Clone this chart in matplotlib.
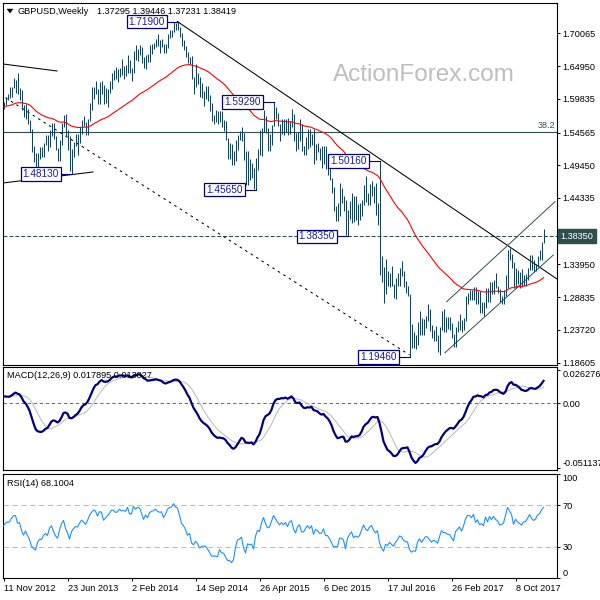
import numpy as np
import pandas as pd
import matplotlib
matplotlib.use("Agg")
import matplotlib.pyplot as plt
from matplotlib.patches import Polygon

plt.rcParams['font.family'] = ['Liberation Sans', 'DejaVu Sans']

# ---------------- data (weekly GBPUSD) ----------------
symbol = "GBPUSD,Weekly"
first_week = "2012-11-11"
last_open = 1.37295

highs = [
    1.5930, 1.6015, 1.6060, 1.6175, 1.6175, 1.6308, 1.6270, 1.6381,
    # 2013
    1.6145, 1.6125, 1.5890, 1.5900,
    1.5830, 1.5645, 1.5515, 1.5245,
    1.5130, 1.5135, 1.5230, 1.5225,
    1.5300, 1.5410, 1.5415, 1.5500, 1.5605,
    1.5605, 1.5405, 1.5220, 1.5340,
    1.5605, 1.5735, 1.5752, 1.5490, 1.5405,
    1.5200, 1.5310, 1.5440, 1.5435,
    1.5540, 1.5655, 1.5720, 1.5620,
    1.5665, 1.5910, 1.6160, 1.6170, 1.6260,
    1.6135, 1.6250, 1.6260, 1.6200,
    1.6155, 1.6135, 1.6260, 1.6385,
    1.6435, 1.6485, 1.6445, 1.6465, 1.6600,
    # 2014
    1.6490, 1.6515, 1.6665, 1.6595,
    1.6460, 1.6735, 1.6825, 1.6760,
    1.6820, 1.6790, 1.6640, 1.6670, 1.6680,
    1.6820, 1.6840, 1.6855, 1.6925,
    1.6995, 1.6905, 1.6925, 1.6845,
    1.6845, 1.6995, 1.7065, 1.7065, 1.7180,
    1.7165, 1.7190, 1.7100, 1.7015,
    1.6900, 1.6810, 1.6715, 1.6635, 1.6645,
    1.6330, 1.6525, 1.6380, 1.6320,
    1.6225, 1.6110, 1.6180, 1.6185,
    1.6045, 1.5925, 1.5735, 1.5810,
    1.5785, 1.5790, 1.5785, 1.5645, 1.5630,
    # 2015
    1.5370, 1.5285, 1.5270, 1.5175,
    1.5345, 1.5410, 1.5485, 1.5550,
    1.5445, 1.5170, 1.5165, 1.5050, 1.4980,
    1.4900, 1.5060, 1.5200, 1.5500,
    1.5525, 1.5815, 1.5710, 1.5525,
    1.5440, 1.5575, 1.5929, 1.5850, 1.5755,
    1.5590, 1.5675, 1.5675, 1.5675,
    1.5690, 1.5640, 1.5820, 1.5750, 1.5445,
    1.5460, 1.5660, 1.5595, 1.5245,
    1.5385, 1.5510, 1.5510, 1.5440,
    1.5510, 1.5275, 1.5300, 1.5220, 1.5240,
    1.5240, 1.5245, 1.4950, 1.4950,
    # 2016
    1.4745, 1.4600, 1.4305, 1.4355,
    1.4665, 1.4590, 1.4470, 1.4410,
    1.4250, 1.4380, 1.4515, 1.4460,
    1.4460, 1.4335, 1.4355, 1.4400,
    1.4640, 1.4770, 1.4510, 1.4660, 1.4700,
    1.4620, 1.4670, 1.4360, 1.5016,
    1.3535, 1.3350, 1.3480, 1.3290,
    1.3255, 1.3370, 1.3085, 1.3185,
    1.3255, 1.3340, 1.3445, 1.3290,
    1.3135, 1.3055, 1.2930,
    1.2460, 1.2335, 1.2290, 1.2490,
    1.2675, 1.2560, 1.2550, 1.2585,
    1.2775, 1.2705, 1.2445, 1.2365,
    # 2017
    1.2430, 1.2300, 1.2415, 1.2675,
    1.2705, 1.2570, 1.2580, 1.2570,
    1.2485, 1.2310, 1.2420, 1.2515,
    1.2615, 1.2535, 1.2565, 1.2905,
    1.2950, 1.2990, 1.2990, 1.3045,
    1.3045, 1.2975, 1.2980, 1.2815,
    1.2815, 1.3030, 1.3030, 1.3115,
    1.3125, 1.3160, 1.3265, 1.3055,
    1.3010, 1.2910, 1.3000, 1.3225,
    1.3620, 1.3658, 1.3560, 1.3430,
    1.3335, 1.3315, 1.3285, 1.3320,
    1.3225, 1.3240, 1.3345, 1.3550,
    1.3550, 1.3460, 1.3410, 1.3520,
    # 2018
    1.3615, 1.3745, 1.39446,
]

lows = [
    1.5827, 1.5880, 1.5965, 1.6000, 1.6010, 1.6150, 1.6080, 1.6055,
    # 2013
    1.5960, 1.5810, 1.5695, 1.5670,
    1.5590, 1.5460, 1.5150, 1.4990,
    1.4920, 1.4831, 1.5040, 1.5075,
    1.5070, 1.5255, 1.5165, 1.5225, 1.5395,
    1.5360, 1.5190, 1.5008, 1.5010,
    1.5260, 1.5545, 1.5390, 1.5185, 1.4855,
    1.4813, 1.5080, 1.5240, 1.5100,
    1.5285, 1.5430, 1.5565, 1.5425,
    1.5425, 1.5640, 1.5815, 1.5985, 1.6065,
    1.5895, 1.5895, 1.6060, 1.5895,
    1.5910, 1.5855, 1.6080, 1.6135,
    1.6270, 1.6290, 1.6250, 1.6320, 1.6360,
    # 2014
    1.6290, 1.6340, 1.6380, 1.6390,
    1.6255, 1.6380, 1.6585, 1.6580,
    1.6660, 1.6535, 1.6460, 1.6450, 1.6555,
    1.6555, 1.6690, 1.6755, 1.6790,
    1.6815, 1.6695, 1.6795, 1.6695,
    1.6695, 1.6780, 1.6935, 1.6950, 1.7020,
    1.7060, 1.7060, 1.6950, 1.6810,
    1.6740, 1.6640, 1.6535, 1.6525, 1.6300,
    1.6052, 1.6160, 1.6210, 1.6005,
    1.5990, 1.5875, 1.5980, 1.5945,
    1.5790, 1.5630, 1.5590, 1.5620,
    1.5585, 1.5620, 1.5535, 1.5485, 1.5340,
    # 2015
    1.5035, 1.5035, 1.4950, 1.4950,
    1.5005, 1.5180, 1.5340, 1.5330,
    1.5020, 1.4635, 1.4635, 1.4715, 1.4745,
    1.4575, 1.4565, 1.4875, 1.5100,
    1.5085, 1.5465, 1.5445, 1.5170,
    1.5170, 1.5255, 1.5560, 1.5660, 1.5565,
    1.5330, 1.5440, 1.5415, 1.5460,
    1.5415, 1.5435, 1.5540, 1.5330, 1.5165,
    1.5200, 1.5330, 1.5170, 1.5105,
    1.5110, 1.5200, 1.5235, 1.5265,
    1.4960, 1.5025, 1.5150, 1.5020, 1.4895,
    1.4970, 1.4880, 1.4800, 1.4715,
    # 2016
    1.4510, 1.4235, 1.4080, 1.4080,
    1.4155, 1.4355, 1.4235, 1.3860,
    1.3835, 1.4100, 1.4050, 1.4055,
    1.4090, 1.4005, 1.4090, 1.4150,
    1.4330, 1.4375, 1.4330, 1.4330, 1.4470,
    1.4350, 1.4170, 1.4010, 1.3230,
    1.3120, 1.2800, 1.2930, 1.3060,
    1.3050, 1.3060, 1.2865, 1.2855,
    1.3055, 1.3055, 1.3220, 1.3040,
    1.2945, 1.2910, 1.1946,
    1.2085, 1.2085, 1.2080, 1.2130,
    1.2300, 1.2300, 1.2300, 1.2400,
    1.2515, 1.2355, 1.2250, 1.2200,
    # 2017
    1.2200, 1.2035, 1.1987, 1.2370,
    1.2345, 1.2345, 1.2380, 1.2375,
    1.2245, 1.2110, 1.2110, 1.2335,
    1.2375, 1.2345, 1.2365, 1.2515,
    1.2770, 1.2840, 1.2845, 1.2845,
    1.2775, 1.2770, 1.2635, 1.2635,
    1.2590, 1.2715, 1.2810, 1.2810,
    1.2930, 1.2935, 1.3035, 1.2955,
    1.2805, 1.2775, 1.2775, 1.2905,
    1.3030, 1.3460, 1.3340, 1.3030,
    1.3030, 1.3085, 1.3030, 1.3040,
    1.3060, 1.3060, 1.3155, 1.3305,
    1.3305, 1.3280, 1.3300, 1.3360,
    # 2018
    1.3460, 1.3460, 1.37231,
]

closes = [
    1.5895, 1.5995, 1.6030, 1.6035, 1.6165, 1.6245, 1.6255, 1.6065,
    # 2013
    1.6080, 1.5860, 1.5700, 1.5810,
    1.5650, 1.5490, 1.5165, 1.5020,
    1.4920, 1.5115, 1.5200, 1.5195,
    1.5300, 1.5355, 1.5280, 1.5485, 1.5555,
    1.5370, 1.5205, 1.5100, 1.5330,
    1.5560, 1.5690, 1.5400, 1.5210, 1.4890,
    1.5170, 1.5290, 1.5375, 1.5355,
    1.5505, 1.5640, 1.5575, 1.5490,
    1.5650, 1.5870, 1.6025, 1.6150, 1.6120,
    1.5975, 1.6180, 1.6170, 1.5925,
    1.6025, 1.6115, 1.6230, 1.6375,
    1.6375, 1.6320, 1.6345, 1.6455, 1.6415,
    # 2014
    1.6440, 1.6420, 1.6575, 1.6440,
    1.6440, 1.6730, 1.6670, 1.6750,
    1.6735, 1.6635, 1.6500, 1.6640, 1.6580,
    1.6745, 1.6805, 1.6815, 1.6875,
    1.6835, 1.6820, 1.6830, 1.6735,
    1.6815, 1.6975, 1.7015, 1.7040, 1.7155,
    1.7105, 1.7090, 1.6980, 1.6835,
    1.6785, 1.6700, 1.6565, 1.6600, 1.6320,
    1.6245, 1.6310, 1.6230, 1.6050,
    1.6075, 1.6085, 1.6080, 1.5985,
    1.5850, 1.5645, 1.5650, 1.5630,
    1.5610, 1.5705, 1.5580, 1.5560, 1.5390,
    # 2015
    1.5160, 1.5160, 1.5000, 1.5040,
    1.5230, 1.5375, 1.5395, 1.5430,
    1.5030, 1.4720, 1.4935, 1.4880, 1.4900,
    1.4635, 1.4985, 1.5180, 1.5120,
    1.5460, 1.5710, 1.5480, 1.5285,
    1.5320, 1.5570, 1.5875, 1.5740, 1.5605,
    1.5500, 1.5600, 1.5510, 1.5610,
    1.5450, 1.5640, 1.5700, 1.5375, 1.5180,
    1.5430, 1.5520, 1.5195, 1.5185,
    1.5325, 1.5440, 1.5320, 1.5430,
    1.5040, 1.5225, 1.5185, 1.5045, 1.5060,
    1.5210, 1.4900, 1.4900, 1.4740,
    # 2016
    1.4535, 1.4250, 1.4260, 1.4245,
    1.4495, 1.4495, 1.4405, 1.3875,
    1.4225, 1.4365, 1.4475, 1.4150,
    1.4215, 1.4145, 1.4200, 1.4405,
    1.4615, 1.4440, 1.4365, 1.4500, 1.4565,
    1.4375, 1.4255, 1.4335, 1.3680,
    1.3275, 1.2950, 1.3215, 1.3115,
    1.3240, 1.3080, 1.2935, 1.3075,
    1.3165, 1.3315, 1.3265, 1.3075,
    1.2985, 1.2970, 1.2430,
    1.2190, 1.2230, 1.2195, 1.2485,
    1.2600, 1.2380, 1.2480, 1.2580,
    1.2560, 1.2420, 1.2280, 1.2340,
    # 2017
    1.2285, 1.2180, 1.2370, 1.2560,
    1.2480, 1.2480, 1.2415, 1.2410,
    1.2285, 1.2160, 1.2400, 1.2470,
    1.2545, 1.2405, 1.2560, 1.2810,
    1.2945, 1.2955, 1.2890, 1.3030,
    1.2795, 1.2895, 1.2745, 1.2780,
    1.2715, 1.3025, 1.2880, 1.3095,
    1.2995, 1.3135, 1.3040, 1.3010,
    1.2875, 1.2890, 1.2930, 1.3205,
    1.3590, 1.3495, 1.3395, 1.3065,
    1.3285, 1.3190, 1.3135, 1.3075,
    1.3195, 1.3205, 1.3325, 1.3480,
    1.3380, 1.3315, 1.3360, 1.3510,
    # 2018
    1.3565, 1.3725, 1.38419,
]

if not (len(highs) == len(lows) == len(closes)):
    raise SystemExit(f"length mismatch {len(highs)} {len(lows)} {len(closes)}")

ma_period = 55
ma_seed = 1.586
macd_fast, macd_slow, macd_signal = 12, 26, 9
macd_seed_fast, macd_seed_slow = 1.600, 1.593
macd_header = "MACD(12,26,9) 0.017895 0.013827"
rsi_period = 14
rsi_seed_gain, rsi_seed_loss = 0.0065, 0.0065
rsi_header = "RSI(14) 68.1004"
rsi_levels = [70, 30]

# swing labels (bar index, price)
swing_index = [34, 87, 126, 135, 172, 188, 203]
swing_price = [1.4813, 1.7190, 1.4565, 1.5929, 1.3835, 1.5016, 1.1946]

fib_level = 1.5462
fib_label = "38.2"
support_level = 1.3835

# drawn trend lines: (bar indices, prices)
trend_main = ([87, 276.75], [1.7190, 1.3168])
trend_dotted = ([1, 203], [1.6000, 1.1982])
trend_top_left = ([-0.25, 26.75], [1.6527, 1.6418])
trend_bottom_left = ([-0.25, 44.75], [1.4668, 1.4840])
channel_lower = ([220.75, 274.9], [1.2017, 1.3543])
channel_upper = ([221.6, 275.75], [1.2813, 1.4376])

price_ticks = [1.70065, 1.64950, 1.59835, 1.54565, 1.49450, 1.44335,
               1.33950, 1.28835, 1.23720, 1.18605]
macd_ticks = [0.026276, 0.0, -0.051137]
macd_tick_labels = ["0.026276", "0.00", "-0.051137"]
rsi_ticks = [100, 70, 30, 0]
date_tick_step = 32

# ---------------- indicators ----------------
c = np.array(closes)
n = len(c)

def ema(values, period, seed):
    a = 2.0 / (period + 1)
    out = np.empty(len(values))
    e = seed
    for k, v in enumerate(values):
        e = e + a * (v - e)
        out[k] = e
    return out

ma = ema(c, ma_period, ma_seed)
macd_main = ema(c, macd_fast, macd_seed_fast) - ema(c, macd_slow, macd_seed_slow)
macd_sig = pd.Series(macd_main).rolling(macd_signal, min_periods=1).mean().values

rsi = np.empty(n)
ag, al = rsi_seed_gain, rsi_seed_loss
rsi[0] = 100 - 100 / (1 + ag / al)
for k in range(1, n):
    ch = c[k] - c[k - 1]
    ag = (ag * (rsi_period - 1) + max(ch, 0)) / rsi_period
    al = (al * (rsi_period - 1) + max(-ch, 0)) / rsi_period
    rsi[k] = 100 - 100 / (1 + ag / al)

dates = pd.date_range(first_week, periods=n, freq="7D")

# ---------------- figure ----------------
W = H = 600
fig = plt.figure(figsize=(6, 6), dpi=100)
fig.patch.set_facecolor("white")

def px_axes(x0, y0, x1, y1):
    return fig.add_axes([x0 / W, 1 - y1 / H, (x1 - x0) / W, (y1 - y0) / H])

ax = px_axes(3, 3, 557, 365)
axm = px_axes(3, 367, 557, 470)
axr = px_axes(3, 474, 557, 578)

x = np.arange(n)
xlim = (-0.25, 276.75)
FS = 6.6
BAR = "#17425e"
SLATE = "#2F4F4F"
NAVY = "#000080"

for a in (ax, axm, axr):
    a.set_xlim(*xlim)
    a.set_facecolor("white")
    for s in a.spines.values():
        s.set_linewidth(0.8)
        s.set_color("black")
    a.yaxis.tick_right()
    a.tick_params(axis="y", direction="out", length=2.2, width=0.7,
                  labelsize=FS, pad=1.8, colors="black")
    a.tick_params(axis="x", bottom=False, labelbottom=False)

# ---- main panel ----
ax.set_ylim(1.18245, 1.74799)
ax.vlines(x, lows, highs, color=BAR, lw=0.75, zorder=3)
ax.plot(x, ma, color="#FF0000", lw=0.8, zorder=4)

ax.axhline(fib_level, color=SLATE, lw=0.8, zorder=2)
ax.axhline(support_level, color=SLATE, lw=0.75, dashes=(3.8, 1.9), zorder=2)

ax.plot(*trend_main, color="black", lw=0.75, zorder=2)
ax.plot(*trend_top_left, color="black", lw=0.75, zorder=2)
ax.plot(*trend_bottom_left, color="black", lw=0.75, zorder=2)
ax.plot(*trend_dotted, color="black", lw=0.75, dashes=(2.4, 3.8), zorder=2)
ax.plot(*channel_lower, color=SLATE, lw=0.7, zorder=2)
ax.plot(*channel_upper, color=SLATE, lw=0.7, zorder=2)

for si, sp in zip(swing_index, swing_price):
    ax.plot([si - 5, si], [sp, sp], color=NAVY, lw=0.8, zorder=5)
    ax.annotate(f"{sp:.5f}", xy=(si - 5, sp), xytext=(-2.0, 0),
                textcoords="offset points", ha="right", va="center",
                fontsize=7.2, color="#1c1ca0", zorder=6,
                bbox=dict(boxstyle="square,pad=0.18", fc="white",
                          ec=NAVY, lw=0.9))

ax.set_yticks(price_ticks)
ax.set_yticklabels([f"{t:.5f}" for t in price_ticks])

ax.annotate(fib_label, xy=(1, fib_level), xycoords=("axes fraction", "data"),
            xytext=(-1.5, 1.2), textcoords="offset points", ha="right",
            va="bottom", fontsize=FS, color=SLATE)

ax.annotate(f"{support_level:.5f}", xy=(1, support_level),
            xycoords=("axes fraction", "data"), xytext=(2.4, 0),
            textcoords="offset points", ha="left", va="center",
            fontsize=FS, color="white", zorder=10, annotation_clip=False,
            bbox=dict(boxstyle="square,pad=0.28", fc=SLATE, ec=SLATE))

# ---- MACD panel ----
axm.set_ylim(-0.05283, 0.02875)
axm.axhline(0, color="#6f6f6f", lw=0.75, dashes=(3.2, 2.6), zorder=1)
axm.plot(x, macd_sig, color="#C0C0C0", lw=0.8, zorder=2)
axm.plot(x, macd_main, color=NAVY, lw=1.6, zorder=3)
axm.set_yticks(macd_ticks)
axm.set_yticklabels(macd_tick_labels)
mlabs = axm.get_yticklabels()
mlabs[0].set_va("top")
mlabs[2].set_va("bottom")

# ---- RSI panel ----
axr.set_ylim(0, 100)
for lv in rsi_levels:
    axr.axhline(lv, color="#C0C0C0", lw=0.8, dashes=(4.8, 3.2), zorder=1)
axr.plot(x, rsi, color="#1E90FF", lw=0.8, zorder=3)
axr.set_yticks(rsi_ticks)
axr.set_yticklabels([str(t) for t in rsi_ticks])
for lab in axr.get_yticklabels():
    if lab.get_text() == "100":
        lab.set_va("top")
    elif lab.get_text() == "0":
        lab.set_va("bottom")

tick_pos = list(range(0, n, date_tick_step))
axr.set_xticks(tick_pos)
axr.set_xticklabels([f"{dates[p].day} {dates[p].strftime('%b %Y')}" for p in tick_pos],
                    ha="left")
axr.tick_params(axis="x", bottom=True, labelbottom=True, direction="out",
                length=2.2, width=0.7, labelsize=FS, pad=1.8)

# ---- header texts ----
fig.patches.append(Polygon([(7 / W, 1 - 9 / H), (13 / W, 1 - 9 / H), (10 / W, 1 - 13 / H)],
                           closed=True, transform=fig.transFigure,
                           facecolor="black", edgecolor="black", lw=0.3))
fig.text(18 / W, 1 - 11 / H, symbol, fontsize=FS, va="center", ha="left")
fig.text(97 / W, 1 - 11 / H,
         f"{last_open:.5f} {highs[-1]:.5f} {lows[-1]:.5f} {closes[-1]:.5f}",
         fontsize=FS, va="center", ha="left")
fig.text(7 / W, 1 - 376 / H, macd_header, fontsize=FS, va="center", ha="left")
fig.text(7 / W, 1 - 484 / H, rsi_header, fontsize=FS, va="center", ha="left")
fig.text(333 / W, 1 - 75 / H, "ActionForex.com", fontsize=17.5,
         color="#BEBEBE", va="center", ha="left")

fig.savefig("out.png", dpi=100, facecolor="white")
